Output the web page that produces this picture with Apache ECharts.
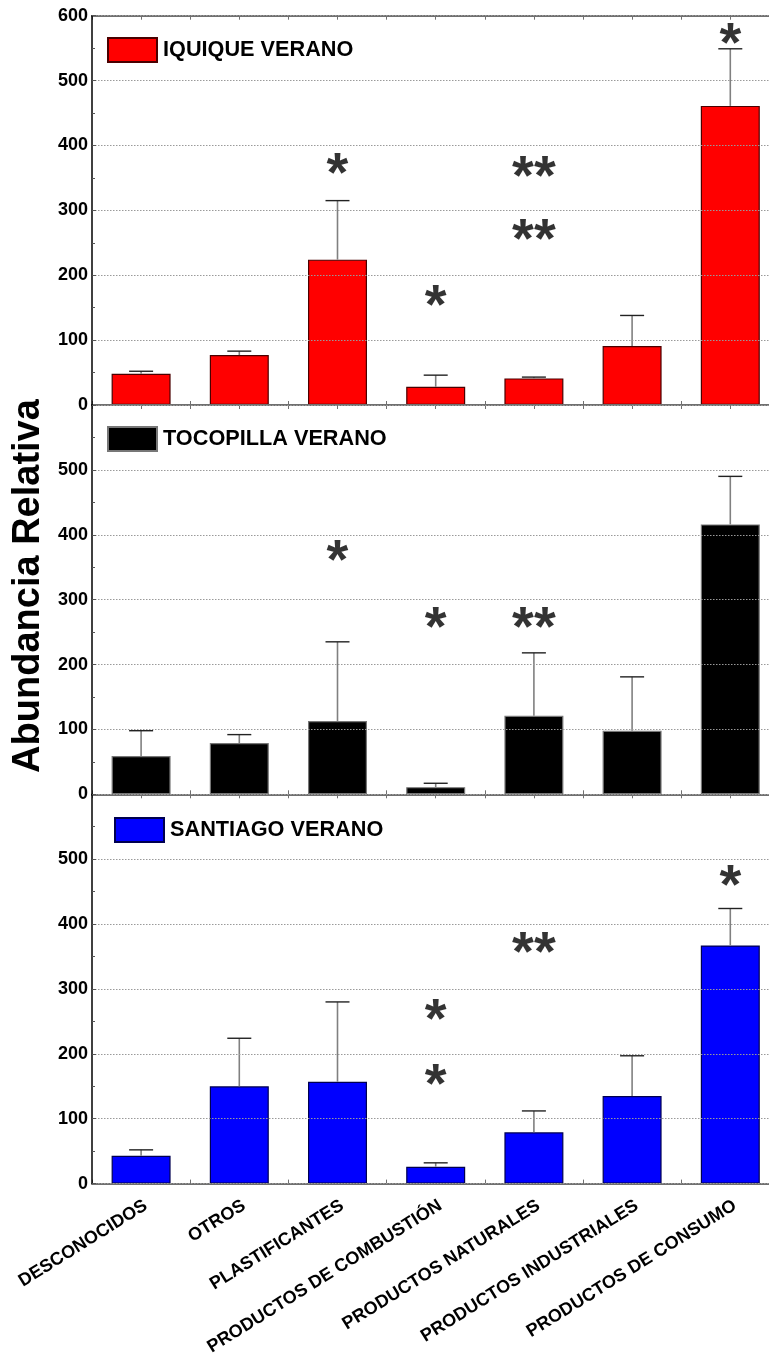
<!DOCTYPE html>
<html>
<head>
<meta charset="utf-8">
<script src="https://cdn.jsdelivr.net/npm/echarts@6/dist/echarts.min.js"></script>
<style>
html, body { margin: 0; padding: 0; background: #fff; overflow: hidden; width: 769px; height: 1361px; }
/* the plot runs slightly past the right edge of the page */
#chart { width: 790px; height: 1361px; }
</style>
</head>
<body>
<div id="chart"></div>
<script>
// Compound families on the shared category axis
const categories = ['DESCONOCIDOS', 'OTROS', 'PLASTIFICANTES', 'PRODUCTOS DE COMBUSTIÓN',
  'PRODUCTOS NATURALES', 'PRODUCTOS INDUSTRIALES', 'PRODUCTOS DE CONSUMO'];
const seriesNames = ['IQUIQUE VERANO', 'TOCOPILLA VERANO', 'SANTIAGO VERANO'];

// Mean relative abundance and upper end of the error bar, per site
const iquiqueMean = [48, 77, 224, 28, 41, 91, 461];
const iquiqueUpper = [52, 83, 315, 46, 43, 138, 549];
const tocopillaMean = [59, 79, 113, 11, 121, 98, 416];
const tocopillaUpper = [98, 92, 235, 17, 218, 181, 490];
const santiagoMean = [43, 150, 157, 26, 79, 135, 367];
const santiagoUpper = [52, 224, 280, 32, 112, 197, 424];

// Significance marks: [category index, height, text]
const iquiqueMarks = [[2, 372, '*'], [3, 169, '*'], [4, 368, '**'], [4, 271, '**'], [6, 572, '*']];
const tocopillaMarks = [[2, 375, '*'], [3, 272, '*'], [4, 272, '**']];
const santiagoMarks = [[3, 268, '*'], [3, 168, '*'], [4, 371, '**'], [6, 474, '*']];

// Value axis ticks
const yTicks = [0, 100, 200, 300, 400, 500, 600];

const FONT = 'Liberation Sans, Arial, sans-serif';
const panels = [
  { name: seriesNames[0], mean: iquiqueMean, upper: iquiqueUpper, marks: iquiqueMarks,
    color: '#ff0000', border: '#4a0000', legendLeft: 107, legendTop: 37, showTop: true },
  { name: seriesNames[1], mean: tocopillaMean, upper: tocopillaUpper, marks: tocopillaMarks,
    color: '#000000', border: '#777777', legendLeft: 107, legendTop: 426, showTop: false },
  { name: seriesNames[2], mean: santiagoMean, upper: santiagoUpper, marks: santiagoMarks,
    color: '#0000ff', border: '#000050', legendLeft: 114, legendTop: 817, showTop: false }
];

const GRID_LEFT = 92;
const GRID_WIDTH = 687.4;
const GRID_HEIGHT = 389.3;
const gridTops = [15.7, 405, 794.3];

const grid = [], xAxis = [], yAxis = [], series = [], legend = [];

panels.forEach((p, i) => {
  grid.push({ left: GRID_LEFT, top: gridTops[i], width: GRID_WIDTH, height: GRID_HEIGHT, containLabel: false });

  // category axis carrying the bars (labels only on the last panel)
  xAxis.push({
    type: 'category', gridIndex: i, data: categories, position: 'bottom',
    axisLine: { show: true, lineStyle: { color: '#707070', width: 2 } },
    axisTick: { show: false },
    axisLabel: {
      show: i === 2, rotate: 32, margin: 13, interval: 0,
      fontFamily: FONT, fontWeight: 'bold', fontSize: 18, color: '#000',
      align: 'right', verticalAlign: 'top'
    },
    splitLine: { show: false }, z: 3
  });
  // half-band tick marks along the bottom edge
  xAxis.push({
    type: 'value', gridIndex: i, position: 'bottom', min: 0, max: 14, interval: 1,
    axisLine: { show: false }, axisLabel: { show: false }, splitLine: { show: false },
    axisTick: { show: true, inside: true, length: 4, lineStyle: { color: '#707070', width: 1 } }
  });
  // half-band tick marks along the top edge
  xAxis.push({
    type: 'value', gridIndex: i, position: 'top', min: 0, max: 14, interval: 1,
    axisLine: { show: true, lineStyle: { color: '#707070', width: 2 } },
    axisLabel: { show: false }, splitLine: { show: false },
    axisTick: { show: true, inside: true, length: 4, lineStyle: { color: '#707070', width: 1 } }
  });

  yAxis.push({
    type: 'value', gridIndex: i, min: yTicks[0], max: yTicks[yTicks.length - 1],
    interval: yTicks[1] - yTicks[0],
    axisLine: { show: true, lineStyle: { color: '#000', width: 1.5 } },
    axisTick: { show: true, inside: true, length: 4, lineStyle: { color: '#555' } },
    minorTick: { show: true, splitNumber: 2, length: 3, lineStyle: { color: '#555' } },
    axisLabel: {
      margin: 4, fontFamily: FONT, fontWeight: 'bold', fontSize: 18, color: '#000',
      formatter: v => (v === yTicks[yTicks.length - 1] && !p.showTop) ? '' : String(v)
    },
    splitLine: { show: true, lineStyle: { color: '#9a9a9a', type: [1.5, 1.5], width: 1 } },
    z: 4
  });

  const xi = i * 3;
  series.push({
    type: 'bar', name: p.name, xAxisIndex: xi, yAxisIndex: i, data: p.mean,
    barWidth: 59,
    itemStyle: { color: p.color, borderColor: p.border, borderWidth: 1.2 },
    z: 2
  });

  // error bars: grey stem from bar top, dark cap
  series.push({
    type: 'custom', xAxisIndex: xi, yAxisIndex: i,
    data: p.upper.map((u, k) => [k, u, p.mean[k]]),
    encode: { x: 0, y: 1 },
    renderItem: (params, api) => {
      const top = api.coord([api.value(0), api.value(1)]);
      const base = api.coord([api.value(0), api.value(2)]);
      const half = 12;
      return {
        type: 'group',
        children: [
          { type: 'line', shape: { x1: top[0], y1: base[1], x2: top[0], y2: top[1] },
            style: { stroke: '#808080', lineWidth: 1.6 } },
          { type: 'line', shape: { x1: top[0] - half, y1: top[1], x2: top[0] + half, y2: top[1] },
            style: { stroke: '#222', lineWidth: 1.4 } }
        ]
      };
    },
    z: 3
  });

  // significance asterisks
  series.push({
    type: 'scatter', xAxisIndex: xi, yAxisIndex: i,
    data: p.marks.map(m => [m[0], m[1], m[2]]),
    symbolSize: 1, itemStyle: { color: 'rgba(0,0,0,0)' },
    label: {
      show: true, position: 'inside', offset: [0, 12],
      formatter: prm => prm.data[2],
      fontFamily: FONT, fontWeight: 'bold', fontSize: 56, color: '#000'
    },
    silent: true, z: 5
  });

  legend.push({
    data: [p.name], left: p.legendLeft, top: p.legendTop, padding: 0,
    orient: 'horizontal', icon: 'rect', itemWidth: 49, itemHeight: 24,
    selectedMode: false,
    textStyle: { fontFamily: FONT, fontWeight: 'bold', fontSize: 21.7, color: '#000', padding: [0, 0, 0, 1] }
  });
});

const chart = echarts.init(document.getElementById('chart'), null, { renderer: 'canvas' });
chart.setOption({
  backgroundColor: '#fff',
  animation: false,
  grid, xAxis, yAxis, series, legend,
  graphic: [{
    type: 'text', x: 29, y: 586, rotation: Math.PI / 2,
    style: {
      text: 'Abundancia Relativa', fill: '#000',
      font: 'bold 38px ' + FONT, textAlign: 'center', textVerticalAlign: 'middle'
    }
  }]
});
</script>
</body>
</html>
